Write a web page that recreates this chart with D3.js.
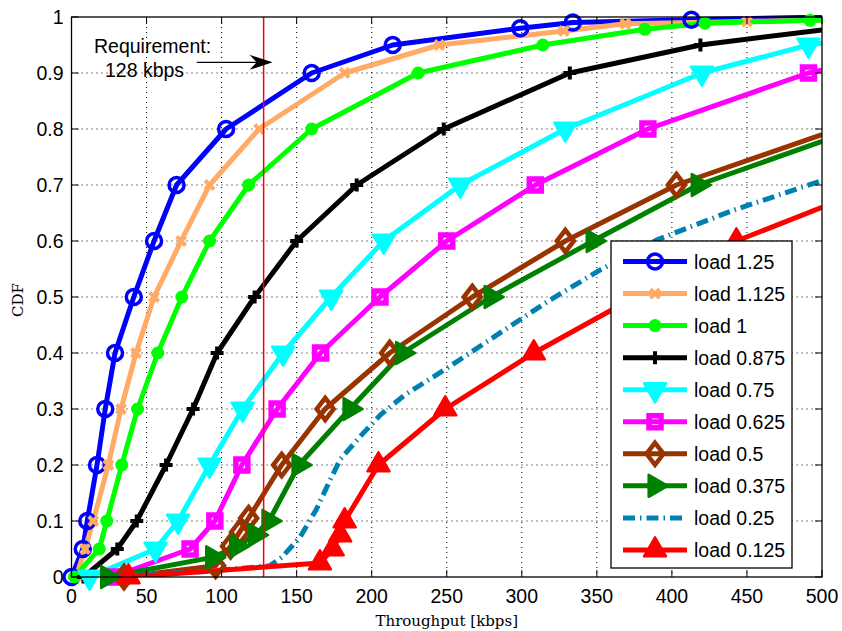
<!DOCTYPE html>
<html>
<head>
<meta charset="utf-8">
<script src="https://cdn.jsdelivr.net/npm/d3@7"></script>
<style>
  body { margin: 0; background: #fff; }
  text { fill: #000; }
</style>
</head>
<body>
<script>
var svgWidth = 842;
var svgHeight = 631;

var margin = { top: 17, right: 20, bottom: 54, left: 71.5 };
var chartWidth = svgWidth - margin.left - margin.right;
var chartHeight = svgHeight - margin.top - margin.bottom;

// ---- data ----
var seriesNames = ["load 1.25", "load 1.125", "load 1", "load 0.875", "load 0.75",
                   "load 0.625", "load 0.5", "load 0.375", "load 0.25", "load 0.125"];

var load1250 = [[0,0],[7.5,0.05],[10.5,0.1],[17,0.2],[22.5,0.3],[29,0.4],[41.5,0.5],[55,0.6],[70,0.7],
                [103,0.8],[160,0.9],[214,0.95],[299,0.98],[334,0.99],[413,0.995],[500,1]];
var load1125 = [[3,0],[9,0.05],[14.5,0.1],[24.5,0.2],[33,0.3],[43,0.4],[55,0.5],[73,0.6],[92,0.7],
                [125,0.8],[182,0.9],[245,0.95],[328,0.975],[369,0.988],[450,0.992],[500,0.995]];
var load1000 = [[2,0],[18.5,0.05],[23.5,0.1],[33.5,0.2],[44,0.3],[57.5,0.4],[73.5,0.5],[92,0.6],[118,0.7],
                [160,0.8],[231,0.9],[314,0.95],[382,0.978],[422,0.989],[492,0.994],[500,0.994]];
var load0875 = [[8,0],[30.5,0.05],[43.5,0.1],[63,0.2],[81,0.3],[97,0.4],[122,0.5],[150,0.6],[190,0.7],
                [248,0.8],[332,0.9],[419,0.95],[500,0.977]];
var load0750 = [[12,0],[56,0.05],[71,0.1],[92,0.2],[114,0.3],[141,0.4],[173,0.5],[208,0.6],[259,0.7],
                [329,0.8],[420,0.9],[491,0.95],[500,0.953]];
var load0625 = [[27,0],[79,0.05],[95.5,0.1],[113.5,0.2],[137,0.3],[166,0.4],[205.5,0.5],[250,0.6],[309,0.7],
                [384,0.8],[491,0.9],[500,0.905]];
var load0500 = [[35,0],[96,0.02],[106,0.055],[112,0.08],[118,0.105],[140,0.2],[169,0.3],[212,0.4],[267,0.5],
                [329,0.6],[403,0.7],[500,0.79]];
var load0375 = [[24,0],[94,0.035],[110,0.055],[122.5,0.075],[131.5,0.1],[151.5,0.2],[185.5,0.3],[220.5,0.4],
                [279.5,0.5],[347.5,0.6],[417.5,0.7],[500,0.778]];
var load0250 = [[20,0],[90,0.01],[132,0.02],[140,0.035],[152,0.07],[163,0.12],[170,0.16],[179,0.21],[192,0.25],
                [206,0.29],[222,0.325],[252,0.376],[285,0.435],[319,0.495],[352,0.548],[390,0.602],
                [441,0.655],[500,0.708]];
var load0125 = [[38,0],[165.5,0.025],[174,0.05],[179,0.075],[182,0.1],[204.5,0.2],[249,0.3],[308,0.4],
                [443,0.6],[500,0.66]];

var seriesData = [load1250, load1125, load1000, load0875, load0750, load0625, load0500, load0375, load0250, load0125];

var xTicks = [0, 50, 100, 150, 200, 250, 300, 350, 400, 450, 500];
var yTicks = [0, 0.1, 0.2, 0.3, 0.4, 0.5, 0.6, 0.7, 0.8, 0.9, 1];
var yTickLabels = ["0", "0.1", "0.2", "0.3", "0.4", "0.5", "0.6", "0.7", "0.8", "0.9", "1"];

var requirement = 128;

// ---- styles ----
var styles = [
  { color: "#0000ff", marker: "o" },
  { color: "#ffaa66", marker: "x" },
  { color: "#00ff00", marker: "dot" },
  { color: "#000000", marker: "+" },
  { color: "#00ffff", marker: "v" },
  { color: "#ff00ff", marker: "s" },
  { color: "#993300", marker: "d" },
  { color: "#008000", marker: ">" },
  { color: "#0080b3", marker: null, dash: "12,5,1.5,5" },
  { color: "#ff0000", marker: "^" }
];

var svg = d3.select("body")
  .append("svg")
  .attr("width", svgWidth)
  .attr("height", svgHeight);

var chartGroup = svg.append("g")
  .attr("transform", `translate(${margin.left}, ${margin.top})`);

var xScale = d3.scaleLinear().domain([0, 500]).range([0, chartWidth]);
var yScale = d3.scaleLinear().domain([0, 1]).range([chartHeight, 0]);

svg.append("defs").append("clipPath").attr("id", "plotclip")
  .append("rect")
  .attr("x", 0).attr("y", -2)
  .attr("width", chartWidth).attr("height", chartHeight + 2);

// grid
chartGroup.selectAll(".vgrid")
  .data(xTicks.slice(1, -1))
  .enter().append("line")
  .attr("x1", d => xScale(d)).attr("x2", d => xScale(d))
  .attr("y1", 0).attr("y2", chartHeight)
  .attr("stroke", "#000").attr("stroke-width", 1)
  .attr("stroke-dasharray", "1,4");

chartGroup.selectAll(".hgrid")
  .data(yTicks.slice(1, -1))
  .enter().append("line")
  .attr("x1", 0).attr("x2", chartWidth)
  .attr("y1", d => yScale(d)).attr("y2", d => yScale(d))
  .attr("stroke", "#000").attr("stroke-width", 1)
  .attr("stroke-dasharray", "1,4");

// marker drawing
function drawMarker(g, type, color) {
  var a = 11, h = 19;
  if (type === "o") {
    g.append("circle").attr("r", 7.5).attr("fill", "none")
      .attr("stroke", color).attr("stroke-width", 3.5);
  } else if (type === "x") {
    g.append("path").attr("d", "M-4.5,-4.5L4.5,4.5M-4.5,4.5L4.5,-4.5")
      .attr("stroke", color).attr("stroke-width", 4).attr("fill", "none");
  } else if (type === "dot") {
    g.append("circle").attr("r", 6.5).attr("fill", color);
  } else if (type === "+") {
    g.append("path").attr("d", "M-6.5,0H6.5M0,-6.5V6.5")
      .attr("stroke", color).attr("stroke-width", 4).attr("fill", "none");
  } else if (type === "s") {
    g.append("rect").attr("x", -6).attr("y", -6).attr("width", 12).attr("height", 12)
      .attr("fill", "none").attr("stroke", color).attr("stroke-width", 5.5);
  } else if (type === "d") {
    g.append("path").attr("d", "M0,-11L8.5,0L0,11L-8.5,0Z")
      .attr("fill", "none").attr("stroke", color).attr("stroke-width", 4.5)
      .attr("stroke-linejoin", "miter");
  } else if (type === "v") {
    g.append("path").attr("d", `M${-a},${-h / 3}L${a},${-h / 3}L0,${2 * h / 3}Z`)
      .attr("fill", color).attr("stroke", color).attr("stroke-width", 2.5)
      .attr("stroke-linejoin", "round");
  } else if (type === "^") {
    g.append("path").attr("d", `M${-a},${h / 3}L${a},${h / 3}L0,${-2 * h / 3}Z`)
      .attr("fill", color).attr("stroke", color).attr("stroke-width", 2.5)
      .attr("stroke-linejoin", "round");
  } else if (type === ">") {
    g.append("path").attr("d", `M${-h / 3},${-a}L${-h / 3},${a}L${2 * h / 3},0Z`)
      .attr("fill", color).attr("stroke", color).attr("stroke-width", 2.5)
      .attr("stroke-linejoin", "round");
  }
}

var drawLine = d3.line()
  .x(d => xScale(d[0]))
  .y(d => yScale(d[1]));

var plotLayer = chartGroup.append("g").attr("clip-path", "url(#plotclip)");

seriesData.forEach(function(data, i) {
  var st = styles[i];
  var sg = plotLayer.append("g");
  sg.append("path")
    .attr("d", drawLine(data))
    .attr("fill", "none")
    .attr("stroke", st.color)
    .attr("stroke-width", 5)
    .attr("stroke-linejoin", "round")
    .attr("stroke-dasharray", st.dash || null);
  if (st.marker) {
    data.forEach(function(p) {
      if (p[0] >= 500) return;
      var mg = chartGroup.append("g")
        .attr("transform", `translate(${xScale(p[0])},${yScale(p[1])})`);
      drawMarker(mg, st.marker, st.color);
    });
  }
});

// requirement line
chartGroup.append("line")
  .attr("x1", xScale(requirement)).attr("x2", xScale(requirement))
  .attr("y1", 0).attr("y2", chartHeight)
  .attr("stroke", "#ff0000").attr("stroke-width", 1.5);

// frame
chartGroup.append("rect")
  .attr("x", 0).attr("y", 0)
  .attr("width", chartWidth).attr("height", chartHeight)
  .attr("fill", "none").attr("stroke", "#000").attr("stroke-width", 1.3);

// inward ticks on all sides
xTicks.forEach(function(t) {
  chartGroup.append("line").attr("x1", xScale(t)).attr("x2", xScale(t))
    .attr("y1", chartHeight).attr("y2", chartHeight - 7).attr("stroke", "#000");
  chartGroup.append("line").attr("x1", xScale(t)).attr("x2", xScale(t))
    .attr("y1", 0).attr("y2", 7).attr("stroke", "#000");
});
yTicks.forEach(function(t) {
  chartGroup.append("line").attr("x1", 0).attr("x2", 7)
    .attr("y1", yScale(t)).attr("y2", yScale(t)).attr("stroke", "#000");
  chartGroup.append("line").attr("x1", chartWidth).attr("x2", chartWidth - 7)
    .attr("y1", yScale(t)).attr("y2", yScale(t)).attr("stroke", "#000");
});

// tick labels
var tickFont = "'Liberation Sans', Arial, sans-serif";
chartGroup.selectAll(".xlab")
  .data(xTicks).enter().append("text")
  .attr("x", d => xScale(d)).attr("y", chartHeight + 26)
  .attr("text-anchor", "middle")
  .style("font-family", tickFont).style("font-size", "19.5px")
  .text(d => d);

chartGroup.selectAll(".ylab")
  .data(yTicks).enter().append("text")
  .attr("x", -8).attr("y", d => yScale(d) + 7)
  .attr("text-anchor", "end")
  .style("font-family", tickFont).style("font-size", "19.5px")
  .text((d, i) => yTickLabels[i]);

// axis titles
chartGroup.append("text")
  .attr("x", chartWidth / 2).attr("y", chartHeight + 49)
  .attr("text-anchor", "middle")
  .style("font-family", "'DejaVu Serif', serif").style("font-size", "15px")
  .text("Throughput [kbps]");

svg.append("text")
  .attr("transform", `translate(23, ${margin.top + chartHeight / 2 + 3}) rotate(-90)`)
  .attr("text-anchor", "middle")
  .style("font-family", "'DejaVu Serif', serif").style("font-size", "15px")
  .text("CDF");

// annotation
chartGroup.append("text")
  .attr("x", xScale(15)).attr("y", yScale(0.935))
  .style("font-family", tickFont).style("font-size", "19.5px")
  .text("Requirement:");
chartGroup.append("text")
  .attr("x", xScale(22.3)).attr("y", yScale(0.892))
  .style("font-family", tickFont).style("font-size", "19.5px")
  .text("128 kbps");

var arrowY = yScale(0.919);
var tipX = xScale(134);
chartGroup.append("line")
  .attr("x1", xScale(83.5)).attr("x2", tipX - 12)
  .attr("y1", arrowY).attr("y2", arrowY)
  .attr("stroke", "#000").attr("stroke-width", 1.3);
chartGroup.append("path")
  .attr("d", `M${tipX},${arrowY}L${tipX - 23},${arrowY - 7.5}L${tipX - 16},${arrowY}L${tipX - 23},${arrowY + 7.5}Z`)
  .attr("fill", "#000");

// legend
var legend = svg.append("g").attr("transform", "translate(611, 241)");
legend.append("rect")
  .attr("width", 181).attr("height", 327)
  .attr("fill", "#fff").attr("stroke", "#000").attr("stroke-width", 1.3);

seriesNames.forEach(function(name, i) {
  var st = styles[i];
  var ly = 20.5 + i * 32.05;
  var row = legend.append("g").attr("transform", `translate(0, ${ly})`);
  row.append("line")
    .attr("x1", 12).attr("x2", 76)
    .attr("y1", 0).attr("y2", 0)
    .attr("stroke", st.color).attr("stroke-width", 5)
    .attr("stroke-dasharray", st.dash || null);
  if (st.marker) {
    var mg = row.append("g").attr("transform", "translate(44, 0)");
    drawMarker(mg, st.marker, st.color);
  }
  row.append("text")
    .attr("x", 83).attr("y", 7)
    .style("font-family", tickFont).style("font-size", "19.5px")
    .text(name);
});
</script>
</body>
</html>
